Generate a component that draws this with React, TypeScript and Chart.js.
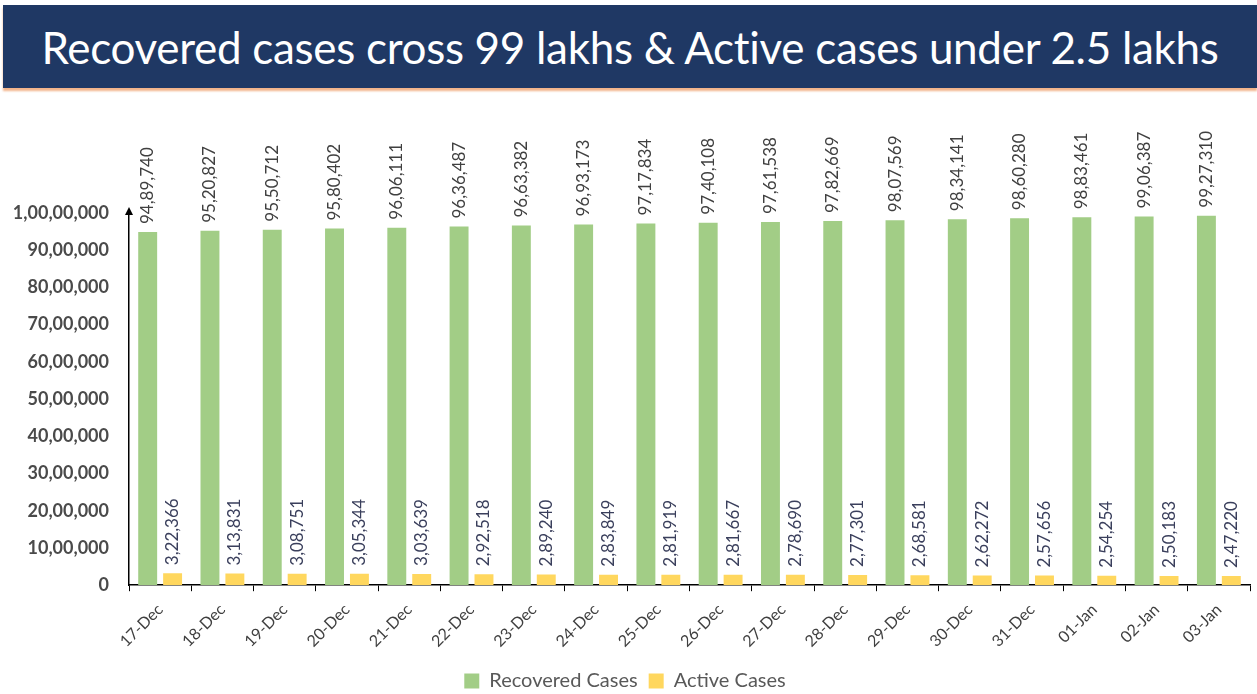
import React, { useEffect, useRef } from "react";
import { Chart, registerables } from "chart.js";

Chart.register(...registerables);

const categories = [
  "17-Dec", "18-Dec", "19-Dec", "20-Dec", "21-Dec", "22-Dec", "23-Dec", "24-Dec", "25-Dec",
  "26-Dec", "27-Dec", "28-Dec", "29-Dec", "30-Dec", "31-Dec", "01-Jan", "02-Jan", "03-Jan",
];

const recoveredCases = [
  9489740, 9520827, 9550712, 9580402, 9606111, 9636487, 9663382, 9693173, 9717834,
  9740108, 9761538, 9782669, 9807569, 9834141, 9860280, 9883461, 9906387, 9927310,
];

const activeCases = [
  322366, 313831, 308751, 305344, 303639, 292518, 289240, 283849, 281919,
  281667, 278690, 277301, 268581, 262272, 257656, 254254, 250183, 247220,
];

const yMax = 10000000;
const yStep = 1000000;

function formatIndian(n: number): string {
  const s = Math.round(n).toString();
  if (s.length <= 3) return s;
  const last3 = s.slice(-3);
  let rest = s.slice(0, -3);
  const parts: string[] = [];
  while (rest.length > 2) {
    parts.unshift(rest.slice(-2));
    rest = rest.slice(0, -2);
  }
  if (rest.length) parts.unshift(rest);
  return parts.join(",") + "," + last3;
}

const FONT = "Lato, 'Open Sans', sans-serif";

const labelPlugin = {
  id: "barLabels",
  afterDatasetsDraw(chart: any) {
    const ctx = chart.ctx;
    const colors = ["#404040", "#3a3f5c"];
    chart.data.datasets.forEach((ds: any, di: number) => {
      const meta = chart.getDatasetMeta(di);
      meta.data.forEach((el: any, i: number) => {
        ctx.save();
        ctx.translate(el.x, el.y - 8);
        ctx.rotate(-Math.PI / 2);
        ctx.font = `17px ${FONT}`;
        ctx.fillStyle = colors[di];
        ctx.textAlign = "left";
        ctx.textBaseline = "middle";
        ctx.fillText(formatIndian(ds.data[i]), 0, 0);
        ctx.restore();
      });
    });
  },
  afterDraw(chart: any) {
    const ctx = chart.ctx;
    const x = chart.chartArea.left;
    const y = chart.chartArea.top - 6;
    ctx.save();
    ctx.fillStyle = "#000";
    ctx.beginPath();
    ctx.moveTo(x, y);
    ctx.lineTo(x - 4, y + 8);
    ctx.lineTo(x + 4, y + 8);
    ctx.closePath();
    ctx.fill();
    ctx.strokeStyle = "#000";
    ctx.lineWidth = 1.5;
    ctx.beginPath();
    ctx.moveTo(x, y + 6);
    ctx.lineTo(x, chart.chartArea.top);
    ctx.stroke();
    ctx.restore();
  },
};

export default function App() {
  const ref = useRef<HTMLCanvasElement | null>(null);

  useEffect(() => {
    document.body.style.margin = "0";
    if (!ref.current) return;
    const chart = new Chart(ref.current, {
      type: "bar",
      data: {
        labels: categories,
        datasets: [
          {
            label: "Recovered Cases",
            data: recoveredCases,
            backgroundColor: "#a2cd86",
            categoryPercentage: 0.8,
            barPercentage: 0.76,
          },
          {
            label: "Active Cases",
            data: activeCases,
            backgroundColor: "#ffd75e",
            categoryPercentage: 0.8,
            barPercentage: 0.76,
          },
        ],
      },
      options: {
        responsive: false,
        animation: false,
        layout: { padding: { top: 118, right: 7, left: 0, bottom: 0 } },
        plugins: {
          legend: {
            position: "bottom",
            labels: {
              boxWidth: 15,
              boxHeight: 15,
              color: "#595959",
              font: { family: FONT, size: 20 },
              padding: 11,
            },
          },
          tooltip: { enabled: false },
        },
        scales: {
          x: {
            grid: {
              display: true,
              drawOnChartArea: false,
              drawTicks: true,
              tickLength: 6,
              color: "#000",
              offset: true,
            },
            border: { color: "#000", width: 1.5 },
            ticks: {
              minRotation: 45,
              maxRotation: 45,
              color: "#404040",
              font: { family: FONT, size: 16 },
              padding: 9,
            },
          },
          y: {
            min: 0,
            max: yMax,
            afterFit: (s: any) => {
              s.width = 129;
            },
            grid: { display: false, drawTicks: false },
            border: { color: "#000", width: 1.5 },
            ticks: {
              stepSize: yStep,
              color: "#4a4a4a",
              font: { family: FONT, size: 18, weight: "bold" },
              padding: 20,
              callback: (v: any) => formatIndian(Number(v)),
            },
          },
        },
      },
      plugins: [labelPlugin],
    });
    return () => chart.destroy();
  }, []);

  return (
    <div style={{ position: "relative", width: 1257, height: 694, background: "#fff", overflow: "hidden" }}>
      <div
        style={{
          position: "absolute",
          left: 3,
          top: 5,
          width: 1254,
          height: 83,
          background: "#1f3864",
          boxShadow: "0 3px 2px #f2b38a",
          color: "#fff",
          fontFamily: FONT,
          fontSize: 44,
          display: "flex",
          alignItems: "center",
          justifyContent: "center",
          letterSpacing: "-0.3px",
        }}
      >
        Recovered cases cross 99 lakhs &amp; Active cases under 2.5 lakhs
      </div>
      <canvas ref={ref} width={1257} height={606} style={{ position: "absolute", left: 0, top: 95 }} />
    </div>
  );
}
